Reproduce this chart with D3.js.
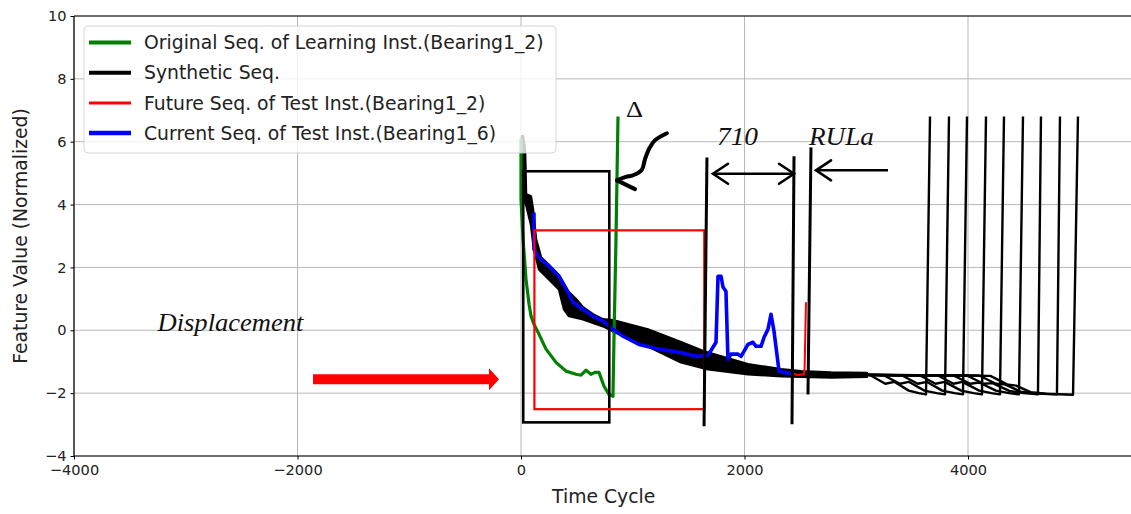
<!DOCTYPE html>
<html>
<head>
<meta charset="utf-8">
<script src="https://cdn.jsdelivr.net/npm/d3@7"></script>
<style>
  html, body { margin: 0; padding: 0; background: #fff; }
  svg { display: block; }
</style>
</head>
<body>
<svg id="chart" width="1131" height="514"></svg>
<script>
// ---- data (time cycle, normalized feature value) ----
const xTicks = [-4000, -2000, 0, 2000, 4000];
const yTicks = [-4, -2, 0, 2, 4, 6, 8, 10];

const legendLabels = [
  "Original Seq. of Learning Inst.(Bearing1_2)",
  "Synthetic Seq.",
  "Future Seq. of Test Inst.(Bearing1_2)",
  "Current Seq. of Test Inst.(Bearing1_6)"
];

// Learning instance (Bearing1_2), green
const originalSeq = [
  [0, 6.1], [0, 4.17], [18, 2.9], [45, 1.62], [72, 0.83], [90, 0.45], [116, 0.19],
  [152, -0.06], [224, -0.6], [313, -1.02], [403, -1.3], [492, -1.4], [537, -1.43],
  [582, -1.27], [626, -1.4], [662, -1.34], [698, -1.34], [743, -1.78], [787, -2.04],
  [823, -2.1], [832, -0.29], [850, 2.9], [868, 6.8]
];

// Envelope of the overlapping synthetic sequences (upper / lower edge)
const synBandUpper = [
  [18, 6.17], [36, 5.76], [45, 4.33], [89, 4.26], [107, 3.85], [134, 2.9], [179, 2.32],
  [251, 2.07], [340, 1.75], [421, 1.24], [492, 0.99], [555, 0.73], [644, 0.51],
  [734, 0.35], [823, 0.32], [1136, 0.03], [1432, -0.38], [1638, -0.67], [2031, -1.08],
  [2327, -1.24], [2506, -1.3], [2774, -1.34], [3096, -1.36]
];
const synBandLower = [
  [9, 6.17], [9, 4.17], [45, 4.01], [89, 3.37], [116, 2.58], [161, 1.94], [251, 1.62],
  [340, 1.3], [385, 0.67], [430, 0.45], [555, 0.35], [734, 0.13], [823, -0.03],
  [1136, -0.51], [1432, -1.02], [1673, -1.24], [2031, -1.4], [2327, -1.46],
  [2774, -1.5], [3096, -1.48]
];

// Tails of the nine synthetic sequences (degradation drop, then failure jump)
const synTail1 = [[3096, -1.42], [3130, -1.44], [3260, -1.7], [3340, -1.64], [3470, -1.92], [3560, -2.0], [3624, -2.04], [3660, 6.8]];
const synTail2 = [[3096, -1.42], [3250, -1.44], [3390, -1.7], [3470, -1.64], [3610, -1.92], [3720, -2.0], [3794, -2.04], [3830, 6.8]];
const synTail3 = [[3096, -1.42], [3410, -1.44], [3550, -1.7], [3630, -1.64], [3770, -1.92], [3880, -2.0], [3955, -2.04], [3991, 6.8]];
const synTail4 = [[3096, -1.42], [3570, -1.44], [3710, -1.7], [3790, -1.64], [3940, -1.92], [4050, -2.0], [4125, -2.04], [4161, 6.8]];
const synTail5 = [[3096, -1.42], [3730, -1.44], [3870, -1.7], [3950, -1.64], [4100, -1.92], [4210, -2.0], [4286, -2.04], [4322, 6.8]];
const synTail6 = [[3096, -1.42], [3870, -1.44], [4020, -1.7], [4100, -1.66], [4250, -1.92], [4370, -2.0], [4456, -2.04], [4492, 6.8]];
const synTail7 = [[3096, -1.42], [3990, -1.44], [4140, -1.7], [4220, -1.68], [4370, -1.93], [4500, -2.0], [4626, -2.04], [4653, 6.8]];
const synTail8 = [[3096, -1.42], [4100, -1.44], [4250, -1.7], [4330, -1.72], [4470, -1.95], [4600, -2.01], [4796, -2.04], [4823, 6.8]];
const synTail9 = [[3096, -1.42], [4200, -1.45], [4350, -1.72], [4430, -1.76], [4560, -1.97], [4700, -2.02], [4940, -2.05], [4984, 6.8]];
const synTails = [synTail1, synTail2, synTail3, synTail4, synTail5, synTail6, synTail7, synTail8, synTail9];

// Future part of the test instance (Bearing1_2), red
const futureSeq = [[2416, -1.34], [2470, -1.42], [2532, -1.4], [2538, -1.2], [2550, 0.89]];

// Current part of the test instance (Bearing1_6), blue
const currentSeq = [
  [116, 3.75], [116, 2.58], [161, 2.32], [251, 2.04], [340, 1.72], [421, 1.21], [465, 0.89],
  [555, 0.67], [644, 0.45], [734, 0.29], [823, 0.03], [913, -0.19], [1056, -0.45],
  [1235, -0.6], [1414, -0.7], [1566, -0.83], [1673, -0.8], [1718, -0.54], [1745, -0.38],
  [1763, 1.72], [1790, 1.72], [1808, 1.37], [1834, 1.24], [1852, -0.92], [1879, -0.76],
  [1942, -0.76], [1969, -0.83], [2031, -0.45], [2076, -0.38], [2103, -0.51], [2148, -0.51],
  [2175, -0.22], [2210, 0.03], [2237, 0.51], [2264, -0.03], [2309, -1.3], [2353, -1.34],
  [2416, -1.37]
];

// Annotation geometry (data units)
const learnBox = [20, 790, -2.93, 5.06];      // x0, x1, y0, y1
const testBox = [120, 1640, -2.51, 3.18];
const markers = [                               // [xTop, yTop, xBottom, yBottom]
  [1664, 5.5, 1638, -3.05],
  [2443, 5.54, 2425, -2.99],
  [2595, 5.82, 2568, -2.04]
];
const rulSpan = [1718, 2443, 4.98];            // double arrow "710"
const rulaArrow = [2640, 3284, 5.09];          // arrow pointing to RULa marker
const deltaCurve = [[1306, 6.27], [1200, 6.05], [1150, 5.8], [1110, 5.45], [1080, 5.1], [1000, 4.93], [940, 4.88], [859, 4.77]];
const deltaBarb = [[859, 4.77], [1020, 4.49]];
const shiftArrow = [-1861, -197, -1.56];       // x0, tip, y

// ---- layout ----
const svg = d3.select("#chart");
const x = d3.scaleLinear().domain([-4000, 5480]).range([74, 74 + 9480 * 0.11175]);
const y = d3.scaleLinear().domain([-4, 10]).range([456, 16]);
const unitX = (x(2000) - x(0)) / 2000;
const unitY = y(0) - y(1);

const font = "'DejaVu Sans', sans-serif";
const serif = "'Liberation Serif', 'DejaVu Serif', serif";

// grid
const grid = svg.append("g");
grid.selectAll("line.gx").data(xTicks).join("line")
  .attr("x1", d => x(d)).attr("x2", d => x(d))
  .attr("y1", y(-4)).attr("y2", y(10))
  .attr("stroke", "#b0b0b0").attr("stroke-width", 0.9);
grid.selectAll("line.gy").data(yTicks).join("line")
  .attr("x1", x(-4000)).attr("x2", 1131)
  .attr("y1", d => y(d)).attr("y2", d => y(d))
  .attr("stroke", "#b0b0b0").attr("stroke-width", 0.9);

const line = d3.line().x(d => x(d[0])).y(d => y(d[1]));

// synthetic sequences
const band = synBandUpper.concat(synBandLower.slice().reverse());
svg.append("path").attr("d", line(band) + "Z")
  .attr("fill", "#000").attr("stroke", "#000").attr("stroke-width", 2.5)
  .attr("stroke-linejoin", "round");
svg.selectAll("path.tail").data(synTails).join("path")
  .attr("d", line).attr("fill", "none").attr("stroke", "#000")
  .attr("stroke-width", 2.4).attr("stroke-linejoin", "round");

// original learning sequence
svg.append("path").attr("d", line(originalSeq)).attr("fill", "none")
  .attr("stroke", "green").attr("stroke-width", 3.2).attr("stroke-linejoin", "round");
// future sequence
svg.append("path").attr("d", line(futureSeq)).attr("fill", "none")
  .attr("stroke", "red").attr("stroke-width", 2).attr("stroke-linejoin", "round");
// current sequence
svg.append("path").attr("d", line(currentSeq)).attr("fill", "none")
  .attr("stroke", "blue").attr("stroke-width", 3.6).attr("stroke-linejoin", "round");

// ---- annotations ----
const ann = svg.append("g");
function rect(b, color, w) {
  ann.append("rect")
    .attr("x", x(b[0])).attr("y", y(b[3]))
    .attr("width", x(b[1]) - x(b[0])).attr("height", y(b[2]) - y(b[3]))
    .attr("fill", "none").attr("stroke", color).attr("stroke-width", w);
}
rect(learnBox, "#000", 2.6);
rect(testBox, "red", 2.2);

ann.selectAll("line.mk").data(markers).join("line")
  .attr("x1", d => x(d[0])).attr("y1", d => y(d[1]))
  .attr("x2", d => x(d[2])).attr("y2", d => y(d[3]))
  .attr("stroke", "#000").attr("stroke-width", 3);

// arrow heads drawn as open chevrons
const headDX = 15 / unitX, headDY = 10 / unitY;
function chevron(tx, ty, dir) {
  ann.append("path")
    .attr("d", line([[tx - dir * headDX, ty + headDY], [tx, ty], [tx - dir * headDX, ty - headDY]]))
    .attr("fill", "none").attr("stroke", "#000").attr("stroke-width", 2.6)
    .attr("stroke-linecap", "round").attr("stroke-linejoin", "miter");
}
ann.append("path").attr("d", line([[rulSpan[0], rulSpan[2]], [rulSpan[1], rulSpan[2]]]))
  .attr("stroke", "#000").attr("stroke-width", 2.6);
chevron(rulSpan[0], rulSpan[2], -1);
chevron(rulSpan[1], rulSpan[2], 1);
ann.append("path").attr("d", line([[rulaArrow[0], rulaArrow[2]], [rulaArrow[1], rulaArrow[2]]]))
  .attr("stroke", "#000").attr("stroke-width", 2.6);
chevron(rulaArrow[0], rulaArrow[2], -1);

// curved arrow pointing at the delta gap
const curve = d3.line().x(d => x(d[0])).y(d => y(d[1])).curve(d3.curveCatmullRom);
ann.append("path").attr("d", curve(deltaCurve)).attr("fill", "none")
  .attr("stroke", "#000").attr("stroke-width", 4).attr("stroke-linecap", "round");
ann.append("path").attr("d", line(deltaBarb)).attr("fill", "none")
  .attr("stroke", "#000").attr("stroke-width", 4).attr("stroke-linecap", "round");

// displacement arrow (red, filled)
const shaftH = 5 / unitY, headH = 11 / unitY, headL = 10 / unitX;
const sa = shiftArrow;
const arrowPoly = [
  [sa[0], sa[2] + shaftH], [sa[1] - headL, sa[2] + shaftH], [sa[1] - headL, sa[2] + headH],
  [sa[1], sa[2]], [sa[1] - headL, sa[2] - headH], [sa[1] - headL, sa[2] - shaftH],
  [sa[0], sa[2] - shaftH]
];
ann.append("path").attr("d", line(arrowPoly) + "Z").attr("fill", "red").attr("stroke", "none");

// annotation texts
function label(txt, dx, dy, w, size, italic) {
  ann.append("text").attr("x", x(dx)).attr("y", y(dy))
    .attr("font-family", serif).attr("font-size", size)
    .attr("font-style", italic ? "italic" : "normal")
    .attr("textLength", w).attr("lengthAdjust", "spacingAndGlyphs")
    .attr("fill", "#111").text(txt);
}
label("Displacement", -3253, -0.03, 146, 26, true);
label("710", 1754, 5.9, 41, 26, true);
label("RULa", 2577, 5.9, 65, 26, true);
label("\u0394", 940, 6.78, 17, 24, false);

// ---- axes ----
const xAxis = svg.append("g").attr("transform", `translate(0,${y(-4)})`)
  .call(d3.axisBottom(x).tickValues(xTicks).tickFormat(d3.format("d")).tickSize(3.5).tickPadding(5.5));
const yAxis = svg.append("g").attr("transform", `translate(${x(-4000)},0)`)
  .call(d3.axisLeft(y).tickValues(yTicks).tickFormat(d3.format("d")).tickSize(3.5).tickPadding(4));
[xAxis, yAxis].forEach(a => {
  a.select(".domain").remove();
  a.selectAll("text").attr("font-family", font).attr("font-size", 14.6).attr("fill", "#222");
  a.selectAll("line").attr("stroke", "#000").attr("stroke-width", 1);
});
// spines
svg.append("line").attr("x1", x(-4000)).attr("x2", x(-4000)).attr("y1", y(10)).attr("y2", y(-4))
  .attr("stroke", "#000").attr("stroke-width", 1.2);
svg.append("line").attr("x1", x(-4000)).attr("x2", 1131).attr("y1", y(-4)).attr("y2", y(-4))
  .attr("stroke", "#000").attr("stroke-width", 1.2);
svg.append("line").attr("x1", x(-4000)).attr("x2", 1131).attr("y1", y(10)).attr("y2", y(10))
  .attr("stroke", "#000").attr("stroke-width", 1.2);

svg.append("text").attr("x", (x(-4000) + x(5480)) / 2).attr("y", 503)
  .attr("text-anchor", "middle").attr("font-family", font).attr("font-size", 18.8)
  .attr("fill", "#222").text("Time Cycle");
svg.append("text")
  .attr("transform", `translate(27,${(y(10) + y(-4)) / 2}) rotate(-90)`)
  .attr("text-anchor", "middle").attr("font-family", font).attr("font-size", 18.8)
  .attr("fill", "#222").text("Feature Value (Normalized)");

// ---- legend ----
const legendColors = ["green", "#000", "red", "blue"];
const legendWidths = [4, 4, 3, 4.5];
const lg = svg.append("g");
lg.append("rect").attr("x", 84).attr("y", 26).attr("width", 472).attr("height", 127)
  .attr("rx", 4).attr("fill", "#fff").attr("fill-opacity", 0.8)
  .attr("stroke", "#ccc").attr("stroke-opacity", 0.8).attr("stroke-width", 1);
const rows = lg.selectAll("g.row").data(legendLabels).join("g")
  .attr("transform", (d, i) => `translate(0,${42.5 + i * 30.2})`);
rows.append("line").attr("x1", 89).attr("x2", 131).attr("y1", 0).attr("y2", 0)
  .attr("stroke", (d, i) => legendColors[i]).attr("stroke-width", (d, i) => legendWidths[i]);
rows.append("text").attr("x", 144).attr("y", 0).attr("dy", "0.36em")
  .attr("font-family", font).attr("font-size", 18.8).attr("fill", "#222").text(d => d);
</script>
</body>
</html>
